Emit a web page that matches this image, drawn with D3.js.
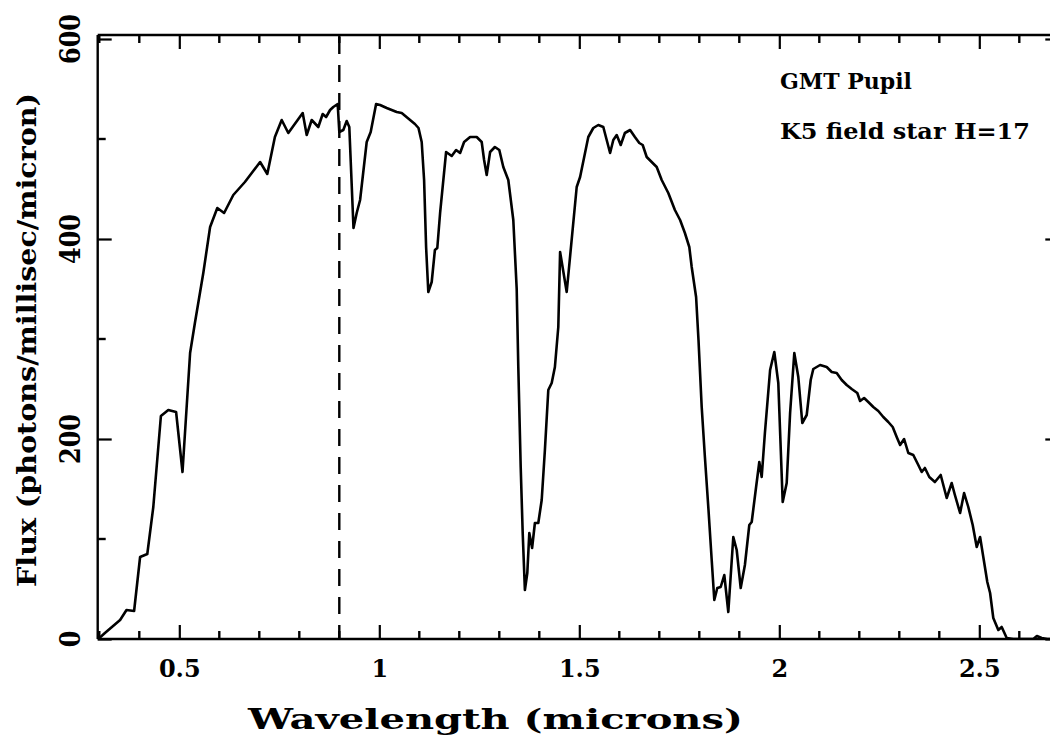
<!DOCTYPE html>
<html><head><meta charset="utf-8">
<script src="https://cdn.jsdelivr.net/npm/d3@7"></script>
<style>html,body{margin:0;padding:0;background:#fff;overflow:hidden;width:1050px;height:740px}svg{display:block;overflow:hidden}</style>
</head><body>
<svg id="c" width="1050" height="740" viewBox="0 0 1050 740"></svg>
<script>
const wavelength = [0.2975,0.314,0.352,0.368,0.387,0.402,0.42,0.435,0.454,0.4725,0.492,0.508,0.527,0.539,0.56,0.577,0.595,0.612,0.635,0.664,0.702,0.72,0.739,0.756,0.7725,0.8085,0.8185,0.831,0.8475,0.8585,0.867,0.877,0.885,0.896,0.9,0.91,0.9185,0.925,0.9355,0.9435,0.952,0.9685,0.9785,0.992,1.002,1.0185,1.0435,1.056,1.077,1.089,1.098,1.106,1.112,1.117,1.1225,1.131,1.139,1.145,1.152,1.167,1.181,1.192,1.202,1.212,1.227,1.2435,1.256,1.262,1.2685,1.277,1.289,1.30,1.31,1.3225,1.335,1.3435,1.3475,1.3535,1.3585,1.364,1.37,1.375,1.382,1.389,1.3975,1.406,1.414,1.4225,1.431,1.439,1.4475,1.452,1.4685,1.4935,1.502,1.5225,1.535,1.5475,1.56,1.5685,1.577,1.585,1.5935,1.6035,1.614,1.627,1.639,1.65,1.6585,1.6685,1.681,1.6935,1.706,1.7225,1.739,1.752,1.764,1.775,1.781,1.792,1.798,1.806,1.814,1.823,1.831,1.8375,1.845,1.8535,1.8625,1.8725,1.885,1.8935,1.9035,1.914,1.925,1.931,1.942,1.95,1.956,1.964,1.977,1.9875,1.9975,2.0085,2.0185,2.027,2.0375,2.0475,2.0575,2.0685,2.0785,2.085,2.102,2.1185,2.131,2.1435,2.156,2.1685,2.181,2.195,2.202,2.212,2.2225,2.235,2.2475,2.26,2.2725,2.2835,2.2935,2.302,2.312,2.3225,2.335,2.3475,2.356,2.364,2.375,2.389,2.4035,2.4185,2.431,2.439,2.452,2.462,2.4725,2.4835,2.4935,2.502,2.51,2.52,2.527,2.535,2.5475,2.556,2.5685,2.585,2.635,2.644,2.656,2.67,2.7];
const flux = [0,6,19,29,28,82,85,132,223,229,227,167,286,316,366,412,431,426,444,457,477,465,502,519,506,526,504,519,512,525,522,529,532,535,507,509,518,512,411,426,439,497,507,535,534,531,527,526,519,515,511,497,459,392,347,357,389,391,426,487,483,489,486,497,502,502,497,479,464,487,492,489,472,459,419,350,272,172,106,49,66,106,91,116,116,139,189,249,256,272,312,387,347,452,462,502,511,514,512,499,486,499,504,494,506,509,502,496,494,482,477,472,459,446,429,419,406,392,372,342,299,232,182,129,79,39,51,52,64,27,102,89,51,74,114,117,152,177,162,206,269,287,256,137,156,226,286,262,216,224,259,270,274,272,267,266,259,254,250,246,238,241,237,232,228,222,217,212,202,194,200,186,184,174,167,171,162,157,164,141,156,144,126,146,132,114,92,102,82,57,46,21,9,12,1,0,0,3,1,0,0];
const xTickLabels = [0.5, 1, 1.5, 2, 2.5];
const yTickLabels = [0, 200, 400, 600];
const cutoff = [0.9];
const notes = ["GMT Pupil", "K5 field star H=17"];
const xTitle = "Wavelength (microns)";
const yTitle = "Flux (photons/millisec/micron)";

const svg = d3.select("#c");
const L = 97.7, R = 1059.3, T = 35, B = 639;
const x = d3.scaleLinear().domain([0.296, 2.7]).range([L, R]);
const y = d3.scaleLinear().domain([0, 604]).range([B, T]);
const font = "'DejaVu Serif', serif";

svg.append("defs").append("clipPath").attr("id","clip")
  .append("rect").attr("x",L).attr("y",T).attr("width",R-L).attr("height",B-T);

const g = svg.append("g");
const xMinor = d3.range(0.3, 2.71, 0.1).map(v=>+v.toFixed(2)).filter(v=>!xTickLabels.some(t=>Math.abs(t-v)<1e-6));
const yMinor = d3.range(100, 601, 200);
const MAJ = 14, MIN = 8;

const gb = g.append("g").attr("transform",`translate(0,${B})`)
  .call(d3.axisBottom(x).tickValues(xTickLabels).tickSize(-MAJ).tickPadding(30).tickFormat(d3.format("~g")));
gb.append("g").selectAll("line").data(xMinor).join("line")
  .attr("x1",d=>x(d)).attr("x2",d=>x(d)).attr("y1",0).attr("y2",-MIN);
const gt = g.append("g").attr("transform",`translate(0,${T})`)
  .call(d3.axisTop(x).tickValues(xTickLabels).tickSize(-MAJ).tickFormat(""));
gt.append("g").selectAll("line").data(xMinor).join("line")
  .attr("x1",d=>x(d)).attr("x2",d=>x(d)).attr("y1",0).attr("y2",MIN);
const gl = g.append("g").attr("transform",`translate(${L},0)`)
  .call(d3.axisLeft(y).tickValues(yTickLabels).tickSize(-MAJ).tickFormat(""));
gl.append("g").selectAll("line").data(yMinor).join("line")
  .attr("y1",d=>y(d)).attr("y2",d=>y(d)).attr("x1",0).attr("x2",MIN);
const gr = g.append("g").attr("transform",`translate(${R},0)`)
  .call(d3.axisRight(y).tickValues(yTickLabels).tickSize(-MAJ).tickFormat(""));
gr.append("g").selectAll("line").data(yMinor).join("line")
  .attr("y1",d=>y(d)).attr("y2",d=>y(d)).attr("x1",0).attr("x2",-MIN);

g.selectAll(".domain").remove();
g.append("line").attr("x1",L).attr("x2",R).attr("y1",B).attr("y2",B);
g.append("line").attr("x1",L).attr("x2",R).attr("y1",T).attr("y2",T);
g.append("line").attr("x1",L).attr("x2",L).attr("y1",T).attr("y2",B);
g.selectAll("line").attr("stroke","#000").attr("stroke-width",2.4);
g.selectAll(".tick line").attr("stroke-width",2.2);

gb.selectAll(".tick text").attr("font-family",font).attr("font-weight","bold")
  .attr("font-size",24).attr("fill","#000").attr("dy",0).attr("y",38);

g.append("g").selectAll("text").data(yTickLabels).join("text")
  .attr("transform",d=>`translate(80,${y(d)}) rotate(-90) scale(1,1.2)`)
  .attr("text-anchor","middle").attr("font-family",font).attr("font-weight","bold")
  .attr("font-size",24).text(d=>d);

svg.append("g").selectAll("line").data(cutoff).join("line")
  .attr("x1",d=>x(d)).attr("x2",d=>x(d)).attr("y1",T+2).attr("y2",B)
  .attr("stroke","#000").attr("stroke-width",2.4).attr("stroke-dasharray","17,11");

const pts = wavelength.map((w,i)=>[w, flux[i]]);
svg.append("path").datum(pts).attr("clip-path","url(#clip)")
  .attr("fill","none").attr("stroke","#000").attr("stroke-width",2.6)
  .attr("stroke-linejoin","round")
  .attr("d", d3.line().x(d=>x(d[0])).y(d=>y(d[1])));

svg.append("text").attr("x",780).attr("y",89).attr("font-family",font).attr("font-weight","bold")
  .attr("font-size",22).attr("textLength",132).attr("lengthAdjust","spacingAndGlyphs").text(notes[0]);
svg.append("text").attr("x",780).attr("y",139).attr("font-family",font).attr("font-weight","bold")
  .attr("font-size",22).attr("textLength",250).attr("lengthAdjust","spacingAndGlyphs").text(notes[1]);

svg.append("text").attr("x",495.5).attr("y",729).attr("text-anchor","middle")
  .attr("font-family",font).attr("font-weight","bold").attr("font-size",28)
  .attr("textLength",495).attr("lengthAdjust","spacingAndGlyphs").text(xTitle);
svg.append("text").attr("transform","translate(36,340) rotate(-90)").attr("text-anchor","middle")
  .attr("font-family",font).attr("font-weight","bold").attr("font-size",26)
  .attr("textLength",494).attr("lengthAdjust","spacingAndGlyphs").text(yTitle);
</script>
</body></html>
